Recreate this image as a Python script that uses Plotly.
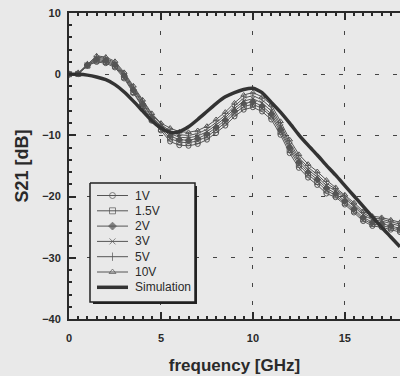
import plotly.graph_objects as go

freq = [0, 0.5, 1.0, 1.5, 2.0, 2.5, 3.0, 3.5, 4.0, 4.5, 5.0, 5.5, 6.0, 6.5, 7.0, 7.5, 8.0, 8.5,
        9.0, 9.5, 10.0, 10.5, 11.0, 11.5, 12.0, 12.5, 13.0, 13.5, 14.0, 14.5, 15.0, 15.5, 16.0,
        16.5, 17.0, 17.5, 18.0]

s21_1v = [0, 0.0, 1.4, 2.0, 1.8, 1.1, -0.7, -3.1, -5.4, -7.6, -9.2, -11.0, -11.6, -11.7, -11.4,
          -10.7, -9.6, -8.4, -6.9, -5.8, -5.4, -6.1, -7.4, -9.9, -12.9, -15.3, -16.9, -18.1,
          -19.5, -20.1, -21.3, -22.6, -24.0, -24.8, -25.0, -25.4, -25.8]
s21_1p5v = [0, 0.05, 1.4, 2.2, 2.0, 1.3, -0.5, -2.9, -5.2, -7.4, -9.0, -10.5, -11.1, -11.2, -10.9,
            -10.2, -9.1, -7.9, -6.4, -5.3, -4.9, -5.6, -6.9, -9.4, -12.4, -14.8, -16.4, -17.6,
            -19.0, -19.8, -21.0, -22.3, -23.7, -24.5, -24.7, -25.1, -25.5]
s21_2v = [0, 0.1, 1.5, 2.4, 2.2, 1.5, -0.3, -2.6, -4.9, -7.1, -8.7, -10.1, -10.7, -10.8, -10.5,
          -9.8, -8.7, -7.5, -6.0, -4.8, -4.5, -5.2, -6.5, -9.0, -12.0, -14.4, -16.0, -17.2,
          -18.6, -19.5, -20.7, -22.0, -23.4, -24.2, -24.4, -24.8, -25.2]
s21_3v = [0, 0.1, 1.5, 2.6, 2.4, 1.7, -0.1, -2.4, -4.7, -6.9, -8.5, -9.7, -10.3, -10.4, -10.1,
          -9.4, -8.3, -7.1, -5.6, -4.4, -4.0, -4.7, -6.0, -8.6, -11.6, -14.0, -15.6, -16.8,
          -18.2, -19.1, -20.3, -21.6, -23.0, -23.8, -24.0, -24.4, -24.8]
s21_5v = [0, 0.15, 1.6, 2.8, 2.6, 1.9, 0.1, -2.1, -4.4, -6.6, -8.2, -9.3, -9.9, -10.0, -9.7,
          -9.0, -7.9, -6.7, -5.2, -3.9, -3.5, -4.2, -5.5, -8.2, -11.2, -13.6, -15.2, -16.4,
          -17.8, -18.8, -20.0, -21.3, -22.7, -23.5, -23.7, -24.1, -24.5]
s21_10v = [0, 0.2, 1.6, 3.0, 2.8, 2.1, 0.3, -1.9, -4.2, -6.4, -8.0, -8.8, -9.4, -9.5, -9.2,
           -8.5, -7.4, -6.2, -4.7, -3.4, -3.0, -3.7, -5.0, -7.7, -10.7, -13.1, -14.7, -15.9,
           -17.3, -18.5, -19.7, -21.0, -22.4, -23.2, -23.4, -23.8, -24.2]

sim_freq = freq
s21_sim = [0, -0.02, -0.15, -0.45, -0.9, -1.7, -2.9, -4.4, -6.0, -7.6, -8.8, -9.5, -9.4, -8.6,
           -7.4, -6.1, -4.8, -3.7, -3.0, -2.5, -2.3, -3.0, -4.6, -6.2, -8.0, -9.9, -11.6, -13.2,
           -14.9, -16.5, -18.2, -19.9, -21.6, -23.3, -25.0, -26.6, -28.2]

labels = ["1V", "1.5V", "2V", "3V", "5V", "10V"]
series = [s21_1v, s21_1p5v, s21_2v, s21_3v, s21_5v, s21_10v]
symbols = ["circle-open", "square-open", "diamond", "x-thin-open", "line-ns-open", "triangle-up-open"]
sim_label = "Simulation"

x_ticks = [0, 5, 10, 15]
y_ticks = [-40, -30, -20, -10, 0, 10]

bg = "#e9e9e9"
ink = "#2a2a2a"
gray = "#555555"
simc = "#333333"
FONT = "Liberation Sans, Arial"

fig = go.Figure()
for lab, ys, sym in zip(labels, series, symbols):
    fig.add_trace(go.Scatter(
        x=freq, y=ys, name=lab, mode="lines+markers", showlegend=False,
        line=dict(color=gray, width=1),
        marker=dict(symbol=sym, size=5, color=gray, line=dict(color=gray, width=1)),
    ))
fig.add_trace(go.Scatter(
    x=sim_freq, y=s21_sim, name=sim_label, mode="lines", showlegend=False,
    line=dict(color=simc, width=3.5, shape="spline", smoothing=0.6),
))

# ---- hand-drawn legend box on an overlay pixel-like axis (plot-area px, origin top-left) ----
PW, PH = 331, 306
bx0, bx1, by0, by1 = 21, 126, 170, 289
fig.add_trace(go.Scatter(
    x=[bx0 + 3, bx1 + 2, bx1 + 2, bx0 + 3, bx0 + 3], y=[by0 + 3, by0 + 3, by1 + 2, by1 + 2, by0 + 3],
    mode="lines", fill="toself", fillcolor="#222222", line=dict(width=0),
    xaxis="x2", yaxis="y2", showlegend=False, hoverinfo="skip",
))
fig.add_trace(go.Scatter(
    x=[bx0, bx1, bx1, bx0, bx0], y=[by0, by0, by1, by1, by0],
    mode="lines", fill="toself", fillcolor=bg, line=dict(width=1.5, color="#222222"),
    xaxis="x2", yaxis="y2", showlegend=False, hoverinfo="skip",
))
row0, rowstep = 182.5, 15.3
lx0, lx1, tx = 28, 59, 64
all_labels = labels + [sim_label]
for i, lab in enumerate(all_labels):
    yc = row0 + i * rowstep
    if i < len(labels):
        fig.add_trace(go.Scatter(
            x=[lx0, (lx0 + lx1) / 2, lx1], y=[yc, yc, yc], mode="lines+markers",
            line=dict(color=gray, width=1),
            marker=dict(symbol=symbols[i], size=[0, 6, 0], color=gray, line=dict(color=gray, width=1)),
            xaxis="x2", yaxis="y2", showlegend=False, hoverinfo="skip",
        ))
    else:
        fig.add_trace(go.Scatter(
            x=[lx0, lx1], y=[yc, yc], mode="lines", line=dict(color=simc, width=3.5),
            xaxis="x2", yaxis="y2", showlegend=False, hoverinfo="skip",
        ))
    fig.add_annotation(
        x=tx, y=yc, xref="x2", yref="y2", text=lab, showarrow=False,
        xanchor="left", yanchor="middle",
        font=dict(family=FONT, size=12, color=ink),
    )

axis_common = dict(
    showline=True, linecolor=ink, linewidth=2,
    ticks="inside", ticklen=7, tickwidth=1.5, tickcolor=ink,
    showgrid=True, gridcolor="#444444", gridwidth=1, griddash="4px,14px",
    zeroline=False,
    tickfont=dict(family=FONT, size=11, color=ink, weight="bold"),
)

fig.update_layout(
    xaxis=dict(
        range=[0, 18], tickvals=x_ticks, mirror="ticks", ticklabelstandoff=8,
        minor=dict(dtick=0.5, ticks="inside", ticklen=3, tickcolor=ink, showgrid=False),
        title=dict(text="frequency [GHz]", standoff=16,
                   font=dict(family=FONT, size=17, color=ink, weight="bold")),
        **axis_common,
    ),
    yaxis=dict(
        range=[-40, 10], tickvals=y_ticks, mirror=False, ticklabelstandoff=4,
        minor=dict(dtick=2, ticks="inside", ticklen=3, tickcolor=ink, showgrid=False),
        title=dict(text="S21 [dB]", standoff=9,
                   font=dict(family=FONT, size=18, color=ink, weight="bold")),
        **axis_common,
    ),
    xaxis2=dict(overlaying="x", range=[0, PW], visible=False, fixedrange=True),
    yaxis2=dict(overlaying="y", range=[PH, 0], visible=False, fixedrange=True),
    width=400, height=376,
    margin=dict(l=69, r=0, t=13, b=57),
    paper_bgcolor=bg, plot_bgcolor=bg,
    showlegend=False,
)

fig.write_html("out.html")
